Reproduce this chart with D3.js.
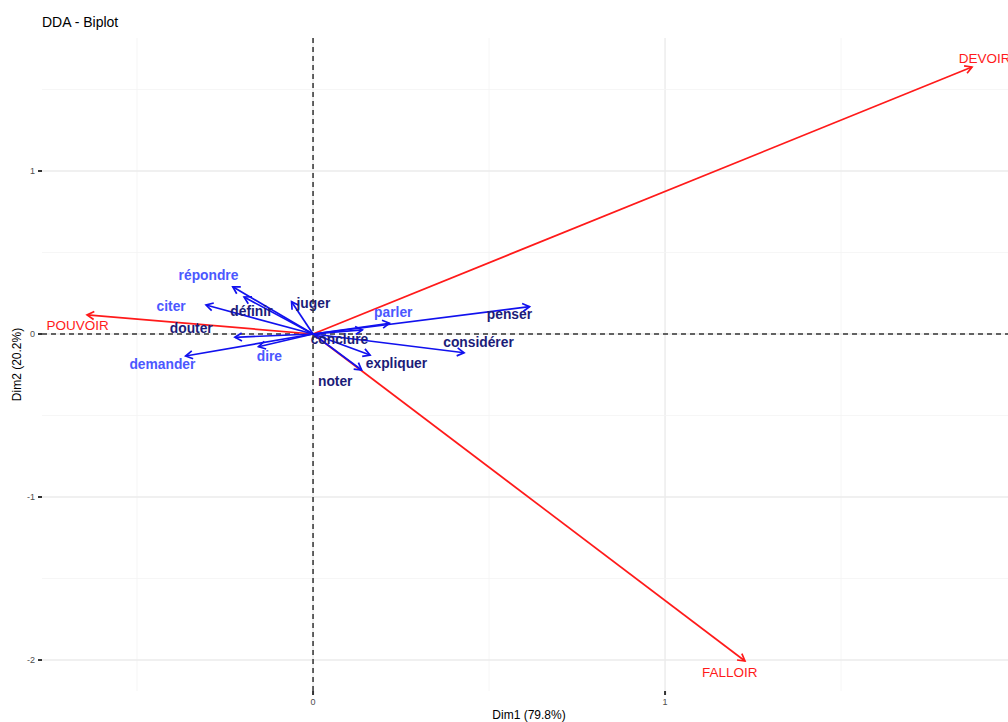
<!DOCTYPE html>
<html>
<head>
<meta charset="utf-8">
<script src="https://cdn.jsdelivr.net/npm/d3@7"></script>
<style>
body { margin: 0; background: #fff; }
text { font-family: "Liberation Sans", Arial, sans-serif; }
</style>
</head>
<body>
<svg id="Chart" width="1008" height="722"></svg>
<script>
// variables (blue arrows)
var varNames = ["répondre", "définir", "citer", "juger", "douter", "demander", "dire",
	"conclure", "parler", "penser", "considérer", "expliquer", "noter"];
var varDim1 = [-0.228, -0.196, -0.304, -0.061, -0.222, -0.362, -0.155, 0.140, 0.217, 0.615, 0.429, 0.162, 0.138];
var varDim2 = [0.290, 0.227, 0.178, 0.198, -0.020, -0.135, -0.078, 0.025, 0.066, 0.168, -0.115, -0.129, -0.221];
var varLabelDim1 = [-0.297, -0.175, -0.403, 0.001, -0.346, -0.428, -0.124, 0.075, 0.228, 0.558, 0.470, 0.237, 0.063];
var varLabelDim2 = [0.362, 0.141, 0.166, 0.190, 0.031, -0.190, -0.135, -0.031, 0.129, 0.117, -0.049, -0.178, -0.294];
var varGroup = ["light", "dark", "light", "dark", "dark", "light", "light", "dark", "light", "dark", "dark", "dark", "dark"];

// groups (red arrows)
var grpNames = ["DEVOIR", "FALLOIR", "POUVOIR"];
var grpDim1 = [1.872, 1.227, -0.642];
var grpDim2 = [1.638, -2.006, 0.117];
var grpLabelDim1 = [1.908, 1.184, -0.669];
var grpLabelDim2 = [1.693, -2.074, 0.055];

var xTicks = [0, 1];
var yTicks = [1, 0, -1, -2];
var xGrid = [-0.5, 0, 0.5, 1, 1.5];
var yGrid = [1.5, 1, 0.5, 0, -0.5, -1, -1.5, -2];

var panel = {left: 42, top: 38, right: 1016, bottom: 691};

var x = d3.scaleLinear().domain([-0.77, 1.997]).range([panel.left, panel.right]);
var y = d3.scaleLinear().domain([-2.190, 1.816]).range([panel.bottom, panel.top]);

var svg = d3.select("#Chart");

svg.append("defs").append("clipPath").attr("id", "panelClip")
	.append("rect")
	.attr("x", panel.left).attr("y", panel.top)
	.attr("width", panel.right - panel.left).attr("height", panel.bottom - panel.top);

var g = svg.append("g").attr("clip-path", "url(#panelClip)");

// grid
g.selectAll(".gx").data(xGrid).enter().append("line")
	.attr("x1", d => x(d)).attr("x2", d => x(d))
	.attr("y1", panel.top).attr("y2", panel.bottom)
	.style("stroke", d => Number.isInteger(d) ? "#ebebeb" : "#f4f4f4")
	.style("stroke-width", d => Number.isInteger(d) ? 1.4 : 0.8);

g.selectAll(".gy").data(yGrid).enter().append("line")
	.attr("y1", d => y(d)).attr("y2", d => y(d))
	.attr("x1", panel.left).attr("x2", panel.right)
	.style("stroke", d => Number.isInteger(d) ? "#ebebeb" : "#f4f4f4")
	.style("stroke-width", d => Number.isInteger(d) ? 1.4 : 0.8);

// dashed zero lines
g.append("line")
	.attr("x1", panel.left).attr("x2", panel.right)
	.attr("y1", y(0)).attr("y2", y(0))
	.style("stroke", "#333").style("stroke-width", 1.5).style("stroke-dasharray", "5,4");
svg.append("line")
	.attr("x1", x(0)).attr("x2", x(0))
	.attr("y1", panel.top).attr("y2", panel.bottom + 3)
	.style("stroke", "#333").style("stroke-width", 1.5).style("stroke-dasharray", "5,4");

function arrow(sel, x2, y2, color){
	var x0 = x(0), y0 = y(0);
	var ang = Math.atan2(y2 - y0, x2 - x0);
	var len = 8, spread = Math.PI / 6;
	sel.append("line")
		.attr("x1", x0).attr("y1", y0).attr("x2", x2).attr("y2", y2)
		.style("stroke", color).style("stroke-width", 1.7);
	var p1 = [x2 - len * Math.cos(ang - spread), y2 - len * Math.sin(ang - spread)];
	var p2 = [x2 - len * Math.cos(ang + spread), y2 - len * Math.sin(ang + spread)];
	sel.append("path")
		.attr("d", "M" + p1 + "L" + x2 + "," + y2 + "L" + p2)
		.style("fill", "none").style("stroke", color).style("stroke-width", 1.7);
}

// red arrows
grpNames.forEach(function(n, i){
	arrow(g, x(grpDim1[i]), y(grpDim2[i]), "#ff1a1a");
});

// blue arrows
varNames.forEach(function(n, i){
	arrow(g, x(varDim1[i]), y(varDim2[i]), "#1111ee");
});

// labels
g.selectAll(".grpLabel").data(grpNames).enter().append("text")
	.attr("x", (d, i) => x(grpLabelDim1[i]))
	.attr("y", (d, i) => y(grpLabelDim2[i]))
	.attr("text-anchor", "middle").attr("dominant-baseline", "central")
	.style("font-size", "13.5px").style("fill", "#ff1a1a")
	.text(d => d);

g.selectAll(".varLabel").data(varNames).enter().append("text")
	.attr("x", (d, i) => x(varLabelDim1[i]))
	.attr("y", (d, i) => y(varLabelDim2[i]))
	.attr("text-anchor", "middle").attr("dominant-baseline", "central")
	.style("font-size", "13.8px").style("font-weight", "bold")
	.style("fill", (d, i) => varGroup[i] == "light" ? "#4b58ff" : "#1c1c78")
	.text(d => d);

// axes ticks
svg.selectAll(".xt").data(xTicks).enter().append("line")
	.attr("x1", d => x(d)).attr("x2", d => x(d))
	.attr("y1", panel.bottom).attr("y2", panel.bottom + 4)
	.style("stroke", "#333").style("stroke-width", 2);
svg.selectAll(".xtl").data(xTicks).enter().append("text")
	.attr("x", d => x(d)).attr("y", panel.bottom + 14)
	.attr("text-anchor", "middle")
	.style("font-size", "9px").style("fill", "#4d4d4d")
	.text(d => d);

svg.selectAll(".yt").data(yTicks).enter().append("line")
	.attr("x1", panel.left - 4).attr("x2", panel.left)
	.attr("y1", d => y(d)).attr("y2", d => y(d))
	.style("stroke", "#333").style("stroke-width", 2);
svg.selectAll(".ytl").data(yTicks).enter().append("text")
	.attr("x", panel.left - 7).attr("y", d => y(d))
	.attr("text-anchor", "end").attr("dominant-baseline", "central")
	.style("font-size", "9px").style("fill", "#4d4d4d")
	.text(d => d);

// titles
svg.append("text").attr("x", 42).attr("y", 27)
	.style("font-size", "14px").style("fill", "#000")
	.text("DDA - Biplot");

svg.append("text").attr("x", (panel.left + panel.right) / 2).attr("y", 719)
	.attr("text-anchor", "middle")
	.style("font-size", "12px").style("fill", "#000")
	.text("Dim1 (79.8%)");

svg.append("text")
	.attr("transform", "translate(21," + ((panel.top + panel.bottom) / 2) + ") rotate(-90)")
	.attr("text-anchor", "middle")
	.style("font-size", "12px").style("fill", "#000")
	.text("Dim2 (20.2%)");
</script>
</body>
</html>
